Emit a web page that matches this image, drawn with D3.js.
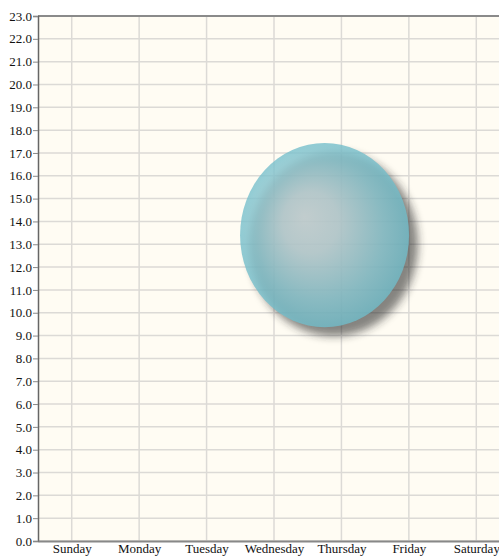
<!DOCTYPE html>
<html>
<head>
<meta charset="utf-8">
<script src="https://cdn.jsdelivr.net/npm/d3@7"></script>
<style>
  html, body { margin: 0; padding: 0; background: #ffffff; overflow: hidden; }
  svg { display: block; }
  text { font-family: "Liberation Serif", "DejaVu Serif", serif; font-size: 13px; fill: #111; }
</style>
</head>
<body>
<svg id="chart" width="499" height="558"></svg>
<script>
// Category labels along the x axis (positions 1..7)
const days = ["Sunday", "Monday", "Tuesday", "Wednesday", "Thursday", "Friday", "Saturday"];
// Y axis tick values
const yTicks = d3.range(0, 24, 1);
// Bubble series: x position (day index), y value, bubble size
const bubbleX = [4.75];
const bubbleY = [13.4];
const bubbleSize = [25];

const svg = d3.select("#chart");
const plotLeft = 38, plotTop = 16, plotBottom = 541, plotRight = 510;

const x = d3.scaleLinear().domain([0.5, 7.5]).range([plotLeft, plotRight]);
const y = d3.scaleLinear().domain([0, 23]).range([plotBottom, plotTop]);
const r = d3.scaleSqrt().domain([0, 25]).range([0, 84.5]);

const defs = svg.append("defs");
const grad = defs.append("radialGradient")
  .attr("id", "bubbleFill")
  .attr("cx", "50%").attr("cy", "50%").attr("r", "55%")
  .attr("fx", "38%").attr("fy", "40%");
grad.append("stop").attr("offset", "0%").attr("stop-color", "#d0dfe1");
grad.append("stop").attr("offset", "30%").attr("stop-color", "#c1d9dd");
grad.append("stop").attr("offset", "70%").attr("stop-color", "#8ac8d2");
grad.append("stop").attr("offset", "100%").attr("stop-color", "#68b9c7");

const shadow = defs.append("filter").attr("id", "shadow")
  .attr("x", "-30%").attr("y", "-30%").attr("width", "160%").attr("height", "160%");
shadow.append("feGaussianBlur").attr("stdDeviation", 4.5);

// Plot background
svg.append("rect")
  .attr("x", plotLeft).attr("y", plotTop)
  .attr("width", plotRight - plotLeft).attr("height", plotBottom - plotTop)
  .attr("fill", "#fffcf3");

// Horizontal grid lines
svg.append("g")
  .selectAll("line").data(yTicks).join("line")
  .attr("x1", plotLeft).attr("x2", plotRight)
  .attr("y1", d => y(d)).attr("y2", d => y(d))
  .attr("stroke", "#dcdad6").attr("stroke-width", 1.5);

// Vertical grid lines at each day
svg.append("g")
  .selectAll("line").data(days).join("line")
  .attr("x1", (d, i) => x(i + 1)).attr("x2", (d, i) => x(i + 1))
  .attr("y1", plotTop).attr("y2", plotBottom)
  .attr("stroke", "#dcdad6").attr("stroke-width", 1.5);

// Bubbles with drop shadow
const bubbles = svg.append("g");
const data = bubbleX.map((d, i) => ({ x: d, y: bubbleY[i], s: bubbleSize[i] }));
bubbles.selectAll("ellipse.shadow").data(data).join("ellipse")
  .attr("class", "shadow")
  .attr("cx", d => x(d.x) + 9).attr("cy", d => y(d.y) + 9)
  .attr("rx", d => r(d.s)).attr("ry", d => r(d.s) * 1.09)
  .attr("fill", "#222").attr("opacity", 0.55)
  .attr("filter", "url(#shadow)");
bubbles.selectAll("ellipse.bubble").data(data).join("ellipse")
  .attr("class", "bubble")
  .attr("cx", d => x(d.x)).attr("cy", d => y(d.y))
  .attr("rx", d => r(d.s)).attr("ry", d => r(d.s) * 1.09)
  .attr("fill", "url(#bubbleFill)").attr("opacity", 0.8);

// Top border
svg.append("line")
  .attr("x1", plotLeft).attr("x2", plotRight).attr("y1", plotTop).attr("y2", plotTop)
  .attr("stroke", "#8a8a8a").attr("stroke-width", 2);

// Y axis
const yAxis = svg.append("g")
  .attr("transform", `translate(${plotLeft},0)`)
  .call(d3.axisLeft(y).tickValues(yTicks).tickFormat(d3.format(".1f")).tickSize(5).tickPadding(1));
yAxis.select(".domain").attr("stroke", "#666").attr("stroke-width", 1.5);
yAxis.selectAll(".tick line").attr("stroke", "#888");
yAxis.selectAll("text").attr("font-family", "Liberation Serif, serif").attr("font-size", 13.5).attr("fill", "#111");

// X axis
const xAxis = svg.append("g")
  .attr("transform", `translate(0,${plotBottom})`)
  .call(d3.axisBottom(x).tickValues(d3.range(1, 8)).tickFormat(d => days[d - 1]).tickSize(0).tickPadding(3));
xAxis.select(".domain").attr("stroke", "#888").attr("stroke-width", 2);
xAxis.selectAll("text").attr("font-family", "Liberation Serif, serif").attr("font-size", 13).attr("fill", "#111");
</script>
</body>
</html>
